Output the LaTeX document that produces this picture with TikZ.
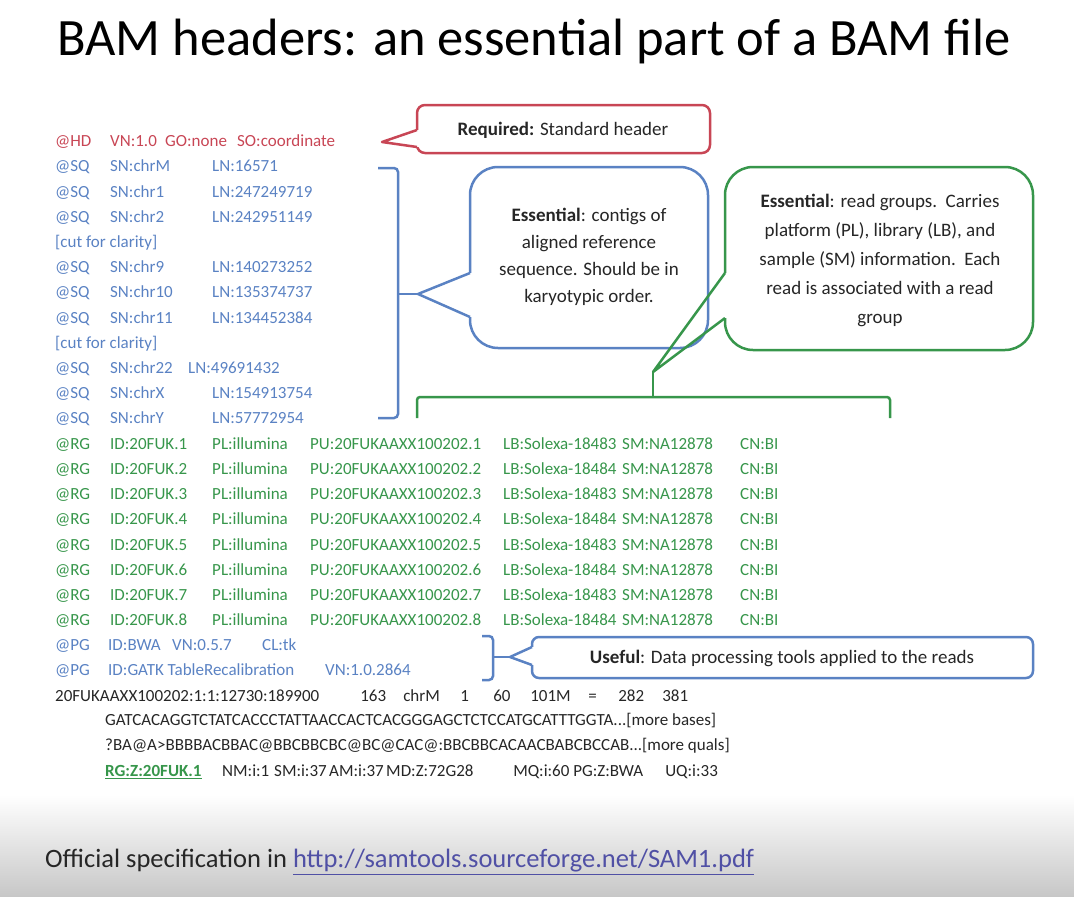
\documentclass[tikz,border=0pt]{standalone}
\usepackage{fontspec}
\setmainfont{Carlito}
\usetikzlibrary{positioning}
\definecolor{hdred}{RGB}{200,70,85}
\definecolor{sqblue}{RGB}{90,130,195}
\definecolor{rggreen}{RGB}{55,150,75}
\definecolor{urlblue}{RGB}{80,80,165}
\newcommand{\fld}[2]{\makebox[#1][l]{#2}}

\begin{document}
\begin{tikzpicture}[x=1pt,y=-1pt,
  row/.style={anchor=west,inner sep=0pt,font=\fontsize{17}{20}\selectfont},
  callout/.style={line width=2.5pt,line join=round,fill=white},
  tail/.style={line width=2.5pt,line join=round},
  bracket/.style={line width=2.5pt,rounded corners=4pt},
  note/.style={align=center,inner sep=0pt,text=black!85,font=\fontsize{19}{27}\selectfont}]
  \useasboundingbox (0,0) rectangle (1074,897);
  \shade[top color=white,bottom color=black!22] (0,795) rectangle (1074,897);

  \node (title) at (534,42) {\fontsize{52.5}{60}\selectfont BAM headers: an essential part of a BAM file};

  % header lines
  \node[row,text=hdred] (hd) at (55,142) {\fld{55pt}{@HD}\fld{55pt}{VN:1.0}\fld{72pt}{GO:none}SO:coordinate};
  \foreach \i/\sn/\ln in {1/chrM/16571,2/chr1/247249719,3/chr2/242951149,5/chr9/140273252,
      6/chr10/135374737,7/chr11/134452384,10/chrX/154913754,11/chrY/57772954}
    \node[row,text=sqblue] (sq\i) at (55,{142+25.2*\i}) {\fld{55pt}{@SQ}\fld{102pt}{SN:\sn}LN:\ln};
  \node[row,text=sqblue] (cut1) at (55,243) {[cut for clarity]};
  \node[row,text=sqblue] (cut2) at (55,344) {[cut for clarity]};
  \node[row,text=sqblue] (sq9) at (55,369) {\fld{55pt}{@SQ}\fld{78pt}{SN:chr22}LN:49691432};
  \foreach \k/\lb in {1/18483,2/18484,3/18483,4/18484,5/18483,6/18484,7/18483,8/18484}
    \node[row,text=rggreen] (rg\k) at (55,{142+25.2*(11+\k)})
      {\fld{55pt}{@RG}\fld{102pt}{ID:20FUK.\k}\fld{98pt}{PL:illumina}\fld{193pt}{PU:20FUKAAXX100202.\k}\fld{119pt}{LB:Solexa-\lb}\fld{118pt}{SM:NA12878}CN:BI};
  \node[row,text=sqblue] (pg1) at (55,646) {\fld{53pt}{@PG}\fld{64pt}{ID:BWA}\fld{90pt}{VN:0.5.7}CL:tk};
  \node[row,text=sqblue] (pg2) at (55,671) {\fld{53pt}{@PG}\fld{217pt}{ID:GATK TableRecalibration}VN:1.0.2864};

  % one read
  \node[row,text=black!85] (rd1) at (55,696) {\fld{305pt}{20FUKAAXX100202:1:1:12730:189900}\fld{43pt}{163}\fld{57pt}{chrM}\fld{33pt}{1}\fld{37pt}{60}\fld{58pt}{101M}\fld{30pt}{=}\fld{44pt}{282}381};
  \node[row,text=black!85] (rd2) at (105,721) {GATCACAGGTCTATCACCCTATTAACCACTCACGGGAGCTCTCCATGCATTTGGTA...[more bases]};
  \node[row,text=black!85] (rd3) at (105,746) {?BA@A>BBBBACBBAC@BBCBBCBC@BC@CAC@:BBCBBCACAACBABCBCCAB...[more quals]};
  \node[row,text=black!85] (rd4) at (105,772) {\fld{117pt}{\color{rggreen}\textbf{\underline{RG:Z:20FUK.1}}}\fld{52pt}{NM:i:1}\fld{55pt}{SM:i:37}\fld{57pt}{AM:i:37}\fld{127pt}{MD:Z:72G28}\fld{60pt}{MQ:i:60}\fld{92pt}{PG:Z:BWA}UQ:i:33};

  % callouts: box, then the tail drawn over its edge
  \draw[callout,draw=hdred,rounded corners=8pt] (417,105) rectangle (710,153);
  \fill[white] (414,130) rectangle (420,147);
  \fill[white] (417,130) -- (382,142) -- (417,147) -- cycle;
  \draw[tail,hdred] (417,130) -- (382,142) -- (417,147);
  \node[note] (req) at (563,130) {\textbf{Required:} Standard header};

  \draw[bracket,draw=sqblue] (378,168) -- (398,168) -- (398,418) -- (378,418);
  \coordinate (sqmid) at (398,294);
  \coordinate (sqtip) at (418,294);
  \draw[sqblue,line width=2.5pt] (sqmid) -- (sqtip);
  \draw[callout,draw=sqblue,rounded corners=28pt] (470,167) rectangle (708,348);
  \fill[white] (467,273) rectangle (473,317);
  \draw[tail,sqblue] (470,273) -- (sqtip) -- (470,317);
  \node[note] (ctg) at (589,257) {\textbf{Essential}: contigs of\\aligned reference\\sequence. Should be in\\karyotypic order.};

  \draw[bracket,draw=rggreen,rounded corners=3pt] (417,418) -- (417,397) -- (890,397) -- (890,418);
  \coordinate (rgmid) at (653,397);
  \coordinate (rgtip) at (653,372);
  \draw[rggreen,line width=2.5pt] (rgmid) -- (rgtip);
  \draw[callout,draw=rggreen,rounded corners=28pt] (725,167) rectangle (1033,350);
  \fill[white] (722,273) rectangle (728,318);
  \draw[tail,rggreen] (725,273) -- (rgtip) -- (725,318);
  \node[note,font=\fontsize{19}{29}\selectfont] (rgs) at (880,260) {\textbf{Essential}: read groups.\ \ Carries\\platform (PL), library (LB), and\\sample (SM) information.\ \ Each\\read is associated with a read\\group};

  \draw[bracket,draw=sqblue] (482,636) -- (493,636) -- (493,680) -- (482,680);
  \coordinate (pgmid) at (493,657);
  \coordinate (pgtip) at (510,657);
  \draw[sqblue,line width=2.5pt] (pgmid) -- (pgtip);
  \draw[callout,draw=sqblue,rounded corners=7pt] (532,637) rectangle (1033,678);
  \fill[white] (529,647) rectangle (535,665);
  \draw[tail,sqblue] (532,647) -- (pgtip) -- (532,665);
  \node[note] (pgs) at (782,658) {\textbf{Useful}: Data processing tools applied to the reads};

  \node[anchor=west,inner sep=0pt,font=\fontsize{26.5}{30}\selectfont,text=black!85] (spec) at (45,862)
    {Official specification in \textcolor{urlblue}{\underline{http://samtools.sourceforge.net/SAM1.pdf}}};
\end{tikzpicture}
\end{document}
